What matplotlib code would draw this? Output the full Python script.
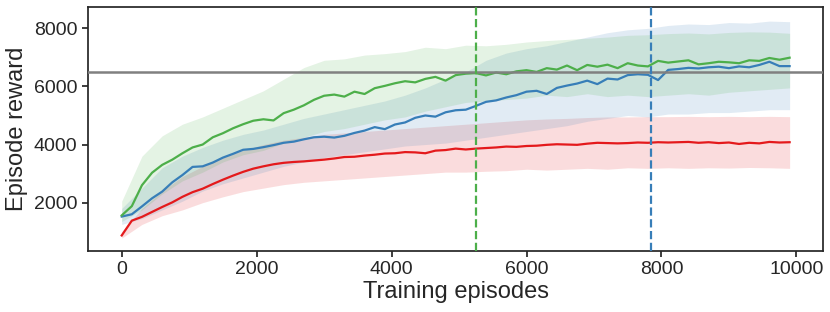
import numpy as np
import matplotlib
matplotlib.use("Agg")
import matplotlib.pyplot as plt

# mean curves, one point every 150 episodes
episodes = np.arange(0, 10000, 150)
green_mean = [1560, 1880, 2600, 3030, 3300, 3480, 3700, 3900, 4000, 4250,
              4390, 4560, 4700, 4820, 4870, 4830, 5080, 5200, 5350, 5540,
              5680, 5720, 5650, 5820, 5740, 5940, 6020, 6110, 6180, 6140,
              6260, 6330, 6200, 6390, 6440, 6460, 6380, 6480, 6420, 6520,
              6560, 6500, 6630, 6580, 6720, 6560, 6740, 6680, 6750, 6630,
              6800, 6720, 6690, 6880, 6820, 6860, 6900, 6760, 6800, 6850,
              6830, 6800, 6900, 6880, 6980, 6920, 6990]
blue_mean = [1520, 1600, 1870, 2150, 2380, 2700, 2950, 3230, 3250, 3380,
             3550, 3680, 3820, 3850, 3910, 3980, 4060, 4100, 4180, 4250,
             4270, 4240, 4300, 4400, 4480, 4600, 4530, 4690, 4760, 4920,
             5000, 4960, 5110, 5180, 5200, 5330, 5470, 5520, 5620, 5700,
             5820, 5850, 5740, 5950, 6030, 6100, 6200, 6080, 6270, 6240,
             6390, 6420, 6400, 6220, 6570, 6600, 6640, 6620, 6660, 6680,
             6630, 6690, 6660, 6740, 6850, 6700, 6700]
red_mean = [870, 1380, 1510, 1680, 1850, 2010, 2200, 2360, 2480, 2640,
            2790, 2930, 3060, 3170, 3250, 3320, 3370, 3400, 3420, 3450,
            3480, 3520, 3570, 3580, 3620, 3650, 3690, 3700, 3740, 3730,
            3700, 3790, 3810, 3860, 3830, 3860, 3880, 3900, 3930, 3920,
            3950, 3960, 3990, 4010, 4000, 3990, 4030, 4060, 4050, 4040,
            4050, 4070, 4060, 4080, 4070, 4080, 4090, 4060, 4080, 4050,
            4070, 4020, 4060, 4040, 4090, 4070, 4080]

# spread bands, one point every 300 episodes
band_episodes = np.arange(0, 10000, 300)
green_low = [1350, 1750, 2300, 2750, 3050, 3400, 3650, 3800, 4050, 4250,
             4450, 4550, 4700, 4850, 4950, 5150, 5300, 5450, 5500, 5550,
             5600, 5700, 5650, 5750, 5650, 5700, 5650, 5700, 5750, 5700,
             5800, 5850, 5900, 5950]
green_high = [2050, 3600, 4300, 4700, 4950, 5250, 5550, 5850, 6250, 6650,
              6900, 6950, 7080, 7130, 7200, 7350, 7300, 7420, 7400, 7450,
              7530, 7580, 7620, 7660, 7700, 7760, 7780, 7820, 7840, 7810,
              7860, 7880, 7870, 7830]
blue_low = [1250, 1450, 1750, 2050, 2400, 2650, 2850, 3050, 3250, 3400,
            3550, 3650, 3750, 3850, 3950, 4000, 4050, 4150, 4250, 4350,
            4450, 4550, 4650, 4800, 4900, 5000, 4950, 5050, 5050, 5100,
            5100, 5150, 5200, 5200]
blue_high = [1800, 2500, 3200, 3600, 3900, 4150, 4350, 4500, 4700, 4900,
             5050, 5200, 5350, 5500, 5700, 5950, 6250, 6500, 6900, 7150,
             7300, 7400, 7550, 7700, 7850, 7950, 8000, 8100, 8150, 8130,
             8200, 8180, 8250, 8230]
red_low = [780, 1250, 1550, 1750, 2000, 2200, 2380, 2500, 2620, 2700,
           2750, 2800, 2850, 2900, 2950, 3000, 3050, 3050, 3080, 3100,
           3150, 3120, 3150, 3180, 3150, 3200, 3180, 3200, 3180, 3200,
           3190, 3210, 3200, 3180]
red_high = [1000, 1800, 2400, 2900, 3250, 3550, 3800, 4000, 4150, 4250,
            4350, 4400, 4450, 4500, 4550, 4600, 4650, 4700, 4750, 4800,
            4850, 4880, 4900, 4930, 4950, 4950, 4960, 4960, 4970, 4960,
            4970, 4960, 4970, 4960]

target_reward = 6500
green_solved = 5250
blue_solved = 7850

GREEN = "#4daf4a"
BLUE = "#377eb8"
RED = "#e41a1c"

plt.rcParams["font.family"] = ["Liberation Sans", "DejaVu Sans"]

fig = plt.figure(figsize=(8.3, 3.12), dpi=100)
ax = fig.add_axes([0.106, 0.196, 0.886, 0.782])

ax.fill_between(band_episodes, red_low, red_high, color=RED, alpha=0.15, lw=0)
ax.fill_between(band_episodes, blue_low, blue_high, color=BLUE, alpha=0.15, lw=0)
ax.fill_between(band_episodes, green_low, green_high, color=GREEN, alpha=0.15, lw=0)

ax.plot(episodes, red_mean, color=RED, lw=1.6)
ax.plot(episodes, blue_mean, color=BLUE, lw=1.6)
ax.plot(episodes, green_mean, color=GREEN, lw=1.6)

ax.axhline(target_reward, color="#808080", lw=1.8, zorder=4)
ax.axvline(green_solved, color=GREEN, lw=1.6, ls="--", zorder=5)
ax.axvline(blue_solved, color=BLUE, lw=1.6, ls="--", zorder=5)

ax.set_xlim(-500, 10400)
ax.set_ylim(340, 8740)
ax.set_xticks([0, 2000, 4000, 6000, 8000, 10000])
ax.set_yticks([2000, 4000, 6000, 8000])

for s in ax.spines.values():
    s.set_color("#262626")
    s.set_linewidth(1.25)
ax.tick_params(colors="#262626", labelsize=14, width=1.25, length=4)
ax.set_xlabel("Training episodes", fontsize=17, color="#262626", labelpad=2)
ax.set_ylabel("Episode reward", fontsize=17, color="#262626", labelpad=4)

fig.savefig("out.png", dpi=100)
